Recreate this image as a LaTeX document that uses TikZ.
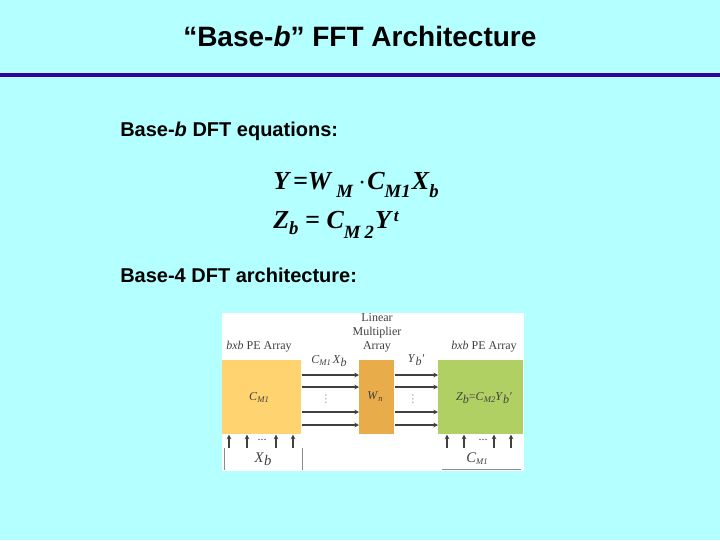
\documentclass[tikz,border=0pt]{standalone}
\usepackage{fontspec}
\usepackage{amsmath}
\setmainfont{Liberation Sans}
\newfontfamily\eqfont{Liberation Serif}
\newfontfamily\symfont{DejaVu Sans}
\usepackage{tikz}
\usetikzlibrary{positioning}
\usetikzlibrary{arrows.meta}
\definecolor{slidebg}{HTML}{B4FFFF}
\definecolor{ruleviolet}{HTML}{330099}
\definecolor{peleft}{HTML}{FFD36F}
\definecolor{wnbox}{HTML}{E9AC4A}
\definecolor{peright}{HTML}{B0D064}
\tikzset{
  headtext/.style={font=\bfseries\fontsize{21}{24}\selectfont,anchor=base west,inner sep=0pt},
  bodytext/.style={font=\bfseries\fontsize{15}{18}\selectfont,anchor=base west,inner sep=0pt},
  eqtext/.style={font=\eqfont\bfseries\itshape\fontsize{19.5}{22}\selectfont,anchor=base west,inner sep=0pt},
  smalltext/.style={font=\eqfont\fontsize{9}{10.5}\selectfont,inner sep=0pt,text=black!75,align=center},
  bigtext/.style={smalltext,font=\eqfont\fontsize{11}{13}\selectfont},
  dottext/.style={font=\symfont\fontsize{8}{10}\selectfont,inner sep=0pt,text=black!40},
  arrayblock/.style={inner sep=0pt,anchor=north west},
  dataarrow/.style={line width=0.8pt,-{Stealth[length=3.5pt,width=3.5pt]},black!75}
}
\newcommand{\eqsub}[2]{\raisebox{-#1pt}{\fontsize{14}{15}\selectfont #2}}
\newcommand{\arrsub}[2]{\textit{#1}\raisebox{-1.5pt}{\fontsize{6.5}{7}\selectfont\textit{#2}}}
\newcommand{\arrlow}[2]{\textit{#1}\raisebox{-2.5pt}{\textit{#2}}}

\begin{document}
\begin{tikzpicture}[x=0.75pt,y=-0.75pt]

\useasboundingbox (0,0) rectangle (720,540);
\fill[slidebg] (0,0) rectangle (720,540);

% --- Title ---
\node[headtext] (title) at (183,46) {“Base-\textit{b}” FFT Architecture};
\fill[ruleviolet] (0,73) rectangle (720,77);

% --- Text and equations ---
\node[bodytext] (eqhead) at (120,136) {Base-\textit{b} DFT equations:};
\node[eqtext] (eqone) at (273,189) {Y\kern3pt=W\kern4pt\eqsub{6.5}{M}\kern4pt$\cdot$\kern1ptC\eqsub{6.5}{M1}\kern1ptX\eqsub{6.5}{b}};
\node[eqtext] (eqtwo) at (273,228) {Z\eqsub{5}{b}\kern5pt=\kern5ptC\eqsub{7.5}{M\kern3pt2}\kern1ptY\kern2pt\raisebox{5pt}{\fontsize{13}{14}\selectfont t}};
\node[bodytext] (archhead) at (120,282) {Base-4 DFT architecture:};

% --- White panel ---
\fill[white] (222,313) rectangle (524,471);

% --- Blocks ---
\node[arrayblock,fill=peleft,minimum width=59.25pt,minimum height=55.5pt] (peone) at (222,360) {};
\node[arrayblock,fill=wnbox,minimum width=26.25pt,minimum height=55.5pt] (wn) at (359,360) {};
\node[arrayblock,fill=peright,minimum width=63.75pt,minimum height=55.5pt] (petwo) at (438,360) {};

% --- Block labels ---
\node[smalltext] (cmone) at (259,398) {\arrsub{C}{M1}};
\node[smalltext] (wnlabel) at (375,397) {\arrsub{W}{n}};
\node[smalltext] (zlabel) at (484,398) {\arrlow{Z}{b}=\arrsub{C}{M2}\arrlow{Y}{b}\textit{'}};

% --- Labels above ---
\node[smalltext] (linear) at (377,333) {Linear\\Multiplier\\Array};
\node[smalltext] (peonetitle) at (259,347) {\textit{bxb} PE Array};
\node[smalltext] (petwotitle) at (484,347) {\textit{bxb} PE Array};
\node[smalltext] (cxlabel) at (329,361) {\arrsub{C}{M1}\,\arrlow{X}{b}};
\node[smalltext] (ylabel) at (416,360) {\arrlow{Y}{b}\textit{'}};

% --- Horizontal arrows ---
\foreach \y in {375,387,412,425} {
  \draw[dataarrow] (peone.east |- 0,\y) -- (wn.west |- 0,\y);
  \draw[dataarrow] (wn.east |- 0,\y) -- (petwo.west |- 0,\y);
}
\node[dottext] (dotsone) at (326,399) {⋮};
\node[dottext] (dotstwo) at (413,399) {⋮};

% --- Input boxes ---
\node[bigtext] (xb) at (263,459) {\arrlow{X}{b}};
\node[bigtext] (cmin) at (477,459) {\arrsub{C}{M1}};
\coordinate (xbleft) at (224,448);
\coordinate (xbright) at (302,448);
\coordinate (cminleft) at (442,469);
\coordinate (cminright) at (521,469);
\draw[black!45] (xbleft) -- ++(0,22);
\draw[black!45] (xbright) -- ++(0,22);
\draw[black!45] (cminleft) -- (cminright);

% --- Vertical arrows ---
\foreach \x in {229,247,276,293}
  \draw[dataarrow] (\x,448) -- (\x,448 |- peone.south);
\foreach \x in {447,464,494,511}
  \draw[dataarrow] (\x,448) -- (\x,448 |- petwo.south);
\node[smalltext] (dotsleft) at (262,440) {...};
\node[smalltext] (dotsright) at (483,440) {...};

\end{tikzpicture}
\end{document}
